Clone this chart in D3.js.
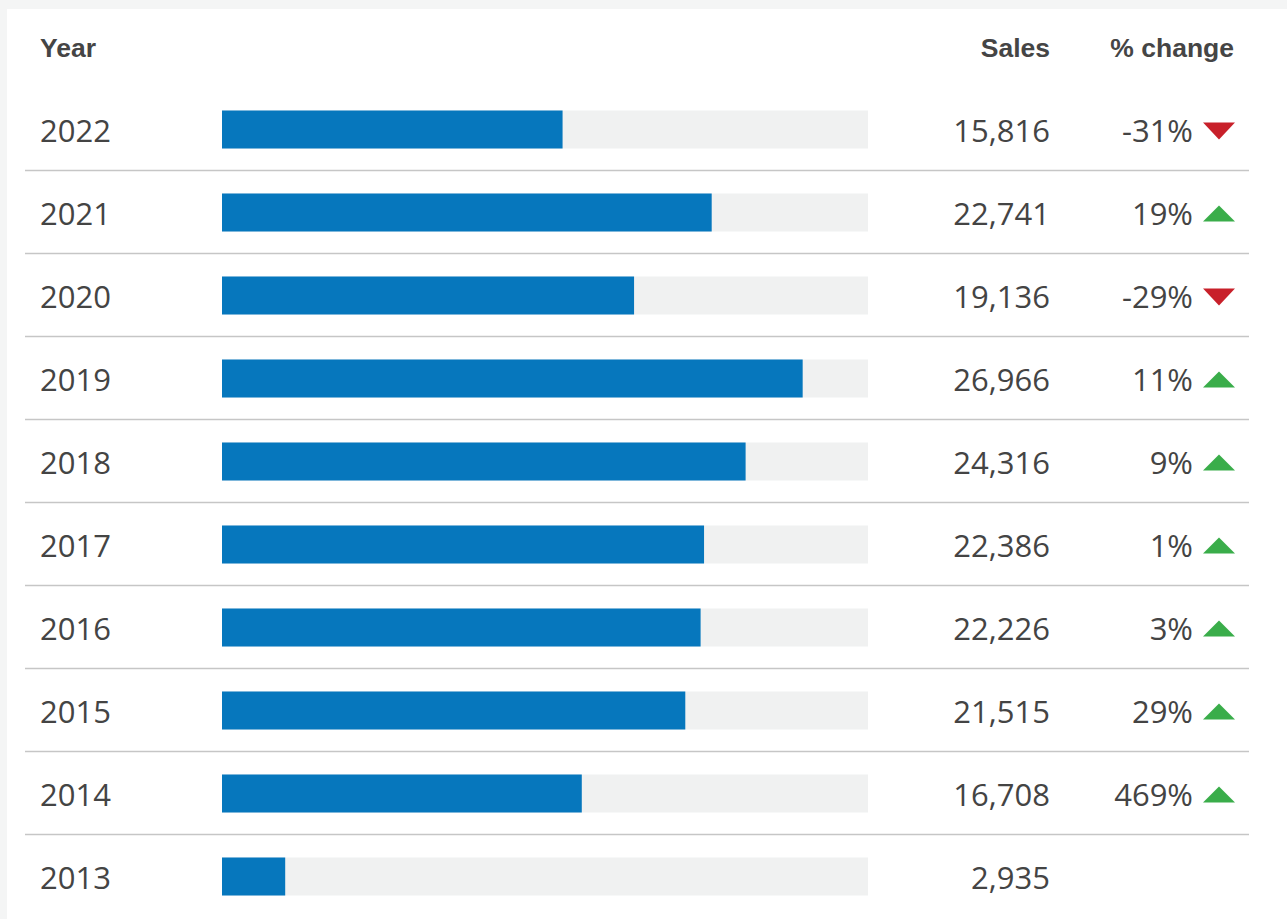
<!DOCTYPE html>
<html>
<head>
<meta charset="UTF-8">
<script src="https://cdn.jsdelivr.net/npm/d3@7"></script>
<style>
  body { margin: 0; background: #f4f5f5; }
  svg { display: block; }
</style>
</head>
<body>
<div id="chart"></div>
<script>
const years = ["2022", "2021", "2020", "2019", "2018", "2017", "2016", "2015", "2014", "2013"];
const sales = [15816, 22741, 19136, 26966, 24316, 22386, 22226, 21515, 16708, 2935];
const pctChange = [-31, 19, -29, 11, 9, 1, 3, 29, 469, null];
const headers = ["Year", "Sales", "% change"];

const w = 1287, h = 919;
const rows = years.map((y, i) => ({ year: y, sales: sales[i], change: pctChange[i] }));

const svg = d3.select('#chart').append('svg')
    .attr('width', w)
    .attr('height', h);

// white panel
svg.append('rect')
    .attr('x', 7).attr('y', 9)
    .attr('width', w).attr('height', h)
    .attr('fill', '#ffffff');

const x = d3.scaleLinear().domain([0, 30000]).range([222, 868]);
const y = d3.scaleBand().domain(years).range([88, 88 + years.length * 83]);
const barH = 38;
const fmt = d3.format(',');

// headers
const head = svg.append('g')
    .style('font-family', '"Liberation Sans", Arial, sans-serif')
    .style('font-weight', 'bold')
    .style('font-size', '26.5px')
    .attr('fill', '#454545');
head.append('text').attr('x', 40).attr('y', 57).text(headers[0]);
head.append('text').attr('x', 1050).attr('y', 57).attr('text-anchor', 'end').text(headers[1]);
head.append('text').attr('x', 1234).attr('y', 57).attr('text-anchor', 'end').text(headers[2]);

const row = svg.selectAll('g.row')
    .data(rows)
    .enter()
    .append('g')
    .attr('class', 'row')
    .attr('transform', d => `translate(0, ${y(d.year)})`);

const mid = y.bandwidth() / 2;

// separators (not under last row)
row.filter((d, i) => i < rows.length - 1)
    .append('line')
    .attr('x1', 25).attr('x2', 1249)
    .attr('y1', y.bandwidth() - 0.5).attr('y2', y.bandwidth() - 0.5)
    .attr('stroke', '#c6c6c6')
    .attr('stroke-width', 1.5);

// track
row.append('rect')
    .attr('x', x(0))
    .attr('y', mid - barH / 2)
    .attr('width', x.range()[1] - x(0))
    .attr('height', barH)
    .attr('fill', '#f0f1f1');

// bar
row.append('rect')
    .attr('x', x(0))
    .attr('y', mid - barH / 2)
    .attr('width', d => x(d.sales) - x(0))
    .attr('height', barH)
    .attr('fill', '#0677bd');

const txt = row.append('g')
    .style('font-family', '"Open Sans", sans-serif')
    .style('font-size', '31px')
    .attr('fill', '#444444');

txt.append('text')
    .attr('x', 40).attr('y', mid + 12)
    .text(d => d.year);

txt.append('text')
    .attr('x', 1050).attr('y', mid + 12)
    .attr('text-anchor', 'end')
    .text(d => fmt(d.sales));

txt.filter(d => d.change !== null)
    .append('text')
    .attr('x', 1193).attr('y', mid + 12)
    .attr('text-anchor', 'end')
    .text(d => d.change + '%');

// arrows
row.filter(d => d.change !== null)
    .append('path')
    .attr('transform', `translate(1219, ${mid + 1})`)
    .attr('d', d => d.change < 0 ? 'M-16,-8L16,-8L0,9Z' : 'M-16,8L16,8L0,-8Z')
    .attr('fill', d => d.change < 0 ? '#c8202a' : '#3aad4a');
</script>
</body>
</html>
